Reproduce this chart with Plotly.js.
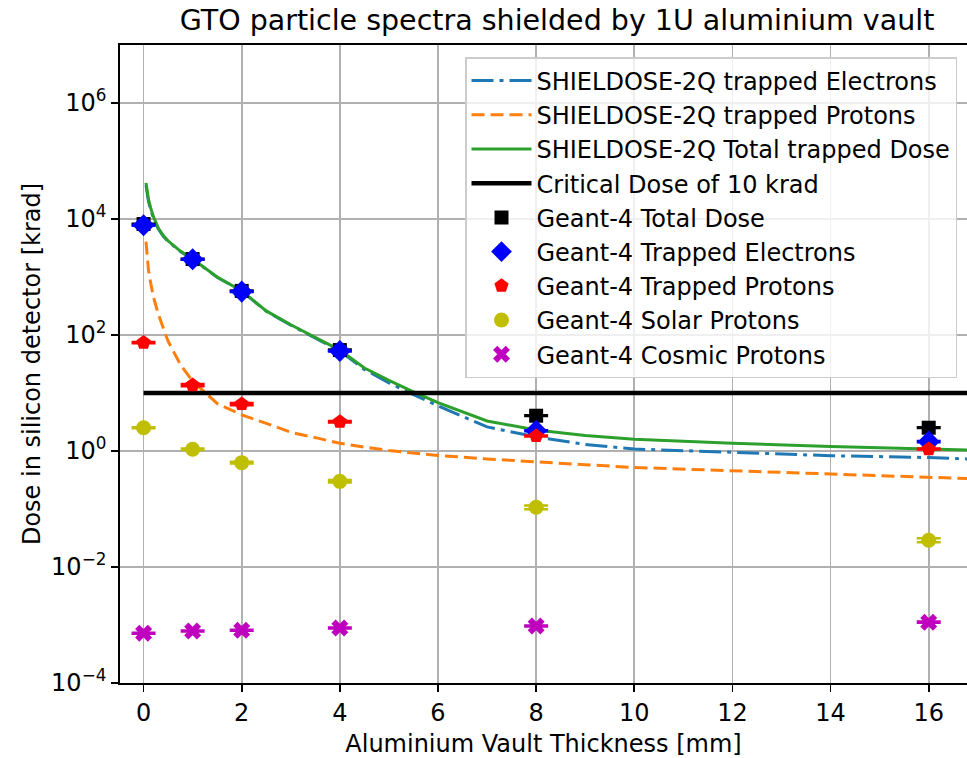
<!DOCTYPE html>
<html>
<head>
<meta charset="utf-8">
<script src="https://cdn.plot.ly/plotly-3.0.1.min.js"></script>
<style>
html,body{margin:0;padding:0;background:#fff;overflow:hidden;}
#chart{width:967px;height:758px;}
</style>
</head>
<body>
<div id="chart"></div>
<script>
// SHIELDOSE-2Q curves (dose in krad vs aluminium thickness in mm)
const shieldThickness = [0.05, 0.1, 0.15, 0.2, 0.3, 0.4, 0.5, 0.75, 1, 1.5, 2, 2.5, 3, 3.5, 4, 4.5, 5, 5.5, 6, 7, 8, 9, 10, 12, 14, 16, 17];
const sdElectrons = [38000, 20000, 14000, 10500, 6800, 5100, 4100, 2750, 2020, 990, 570, 257, 148, 88, 53, 25.5, 15, 9.4, 6.0, 2.6, 1.75, 1.3, 1.08, 0.95, 0.83, 0.77, 0.72];
const sdProtons = [4070, 1320, 750, 458, 230, 130, 78, 31, 16, 6.6, 4.2, 3.0, 2.1, 1.7, 1.36, 1.17, 1.02, 0.92, 0.84, 0.73, 0.66, 0.58, 0.52, 0.46, 0.40, 0.35, 0.33];
const sdTotal = [42000, 22000, 15000, 11000, 7000, 5200, 4200, 2800, 2040, 1000, 575, 260, 150, 90, 55, 27, 16.5, 10.5, 6.8, 3.3, 2.3, 1.85, 1.6, 1.36, 1.19, 1.08, 1.03];

// Critical dose line
const criticalX = [0, 20];
const criticalY = [10, 10];

// Geant-4 simulation points
const g4Thickness = [0, 1, 2, 4, 8, 16];
const g4Total = [8200, 2040, 575, 55, 4.06, 2.52];
const g4Electrons = [7800, 2020, 560, 53, 2.24, 1.45];
const g4TrappedProtons = [74, 13.7, 6.45, 3.2, 1.81, 1.08];
const g4SolarProtons = [2.52, 1.07, 0.63, 0.30, 0.107, 0.029];
const g4CosmicProtons = [7.2e-4, 7.9e-4, 8.1e-4, 8.9e-4, 9.6e-4, 1.12e-3];

// Error bars (krad)
const errTotal = [120, 30, 9, 1, 0.06, 0.04];
const errElectrons = [120, 30, 9, 1, 0.05, 0.03];
const errTrappedProtons = [2, 0.6, 0.3, 0.1, 0.04, 0.02];
const errSolarProtons = [0.05, 0.03, 0.02, 0.015, 0.008, 0.0022];
const errCosmicProtons = [1.5e-5, 1.5e-5, 1.5e-5, 1.8e-5, 2e-5, 2.5e-5];

// Y tick labels
const yTickVals = [1e-4, 1e-2, 1, 1e2, 1e4, 1e6];
const yTickText = ['10<sup>\u22124</sup>', '10<sup>\u22122</sup>', '10<sup>0</sup>', '10<sup>2</sup>', '10<sup>4</sup>', '10<sup>6</sup>'];

const FONT = 'DejaVu Sans, Liberation Sans, sans-serif';

function lineTrace(x, y, name, color, dash, width) {
  return {x: x, y: y, name: name, type: 'scatter', mode: 'lines',
    line: {color: color, dash: dash, width: width}};
}
function errTrace(y, err, name, color, symbol, size) {
  return {x: g4Thickness, y: y, name: name, type: 'scatter', mode: 'markers',
    marker: {color: color, symbol: symbol, size: size, line: {width: 0}},
    error_y: {type: 'data', array: err, visible: true, color: color, thickness: 2.5, width: 12}};
}

const traces = [
  lineTrace(shieldThickness, sdElectrons, 'SHIELDOSE-2Q trapped Electrons', '#1f77b4', '22px,6px,4px,6px', 3),
  lineTrace(shieldThickness, sdProtons, 'SHIELDOSE-2Q trapped Protons', '#ff7f0e', '13px,6px', 3),
  lineTrace(shieldThickness, sdTotal, 'SHIELDOSE-2Q Total trapped Dose', '#2ca02c', 'solid', 3),
  lineTrace(criticalX, criticalY, 'Critical Dose of 10 krad', '#000000', 'solid', 4.5),
  errTrace(g4Total, errTotal, 'Geant-4 Total Dose', '#000000', 'square', 14),
  errTrace(g4Electrons, errElectrons, 'Geant-4 Trapped Electrons', '#0000ff', 'diamond', 17),
  errTrace(g4TrappedProtons, errTrappedProtons, 'Geant-4 Trapped Protons', '#ff0000', 'pentagon', 15),
  errTrace(g4SolarProtons, errSolarProtons, 'Geant-4 Solar Protons', '#bfbf00', 'circle', 15),
  errTrace(g4CosmicProtons, errCosmicProtons, 'Geant-4 Cosmic Protons', '#bf00bf', 'x', 15)
];

const layout = {
  width: 967, height: 758,
  margin: {l: 120, r: 0, t: 45, b: 75, pad: 0},
  paper_bgcolor: '#ffffff', plot_bgcolor: '#ffffff',
  font: {family: FONT, size: 24, color: '#000000'},
  showlegend: true,
  title: {text: 'GTO particle spectra shielded by 1U aluminium vault',
    font: {family: FONT, size: 28.5, color: '#000'},
    xref: 'container', yref: 'container', x: 557/967, xanchor: 'center', y: 1 - 20/758, yanchor: 'middle'},
  xaxis: {
    range: [-0.48, 16.78], tickmode: 'linear', tick0: 0, dtick: 2,
    showgrid: true, gridcolor: '#b0b0b0', gridwidth: 1.8, zeroline: false,
    showline: true, linecolor: '#000', linewidth: 1.8, mirror: true,
    ticks: 'outside', ticklen: 7, tickwidth: 1.8, tickcolor: '#000',
    tickfont: {family: FONT, size: 24},
    title: {text: 'Aluminium Vault Thickness [mm]', font: {family: FONT, size: 24}, standoff: 10}
  },
  yaxis: {
    type: 'log', range: [-4, 7], tickmode: 'array', tickvals: yTickVals, ticktext: yTickText,
    showgrid: true, gridcolor: '#b0b0b0', gridwidth: 1.8, zeroline: false,
    showline: true, linecolor: '#000', linewidth: 1.8, mirror: false,
    ticks: 'outside', ticklen: 7, tickwidth: 1.8, tickcolor: '#000',
    tickfont: {family: FONT, size: 24},
    title: {text: 'Dose in silicon detector [krad]', font: {family: FONT, size: 24}, standoff: 4}
  },
  legend: {
    x: (465 - 120) / 847, xanchor: 'left', y: (683 - 57) / 638, yanchor: 'top',
    bgcolor: 'rgba(255,255,255,0.8)', bordercolor: '#cccccc', borderwidth: 1.5,
    font: {family: FONT, size: 24, color: '#000'},
    itemwidth: 60, tracegroupgap: 0
  }
};

Plotly.newPlot('chart', traces, layout, {displayModeBar: false, staticPlot: true});
</script>
</body>
</html>
